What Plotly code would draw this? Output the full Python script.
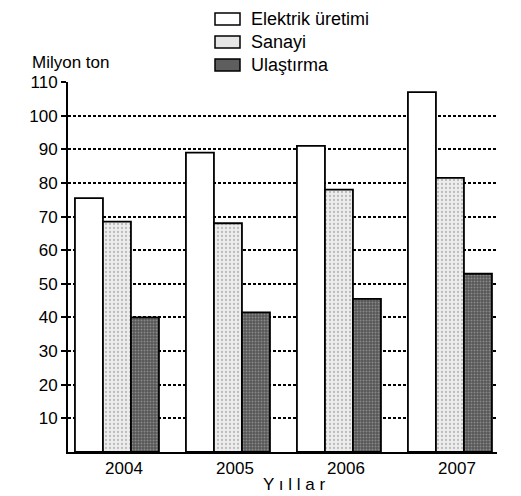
import plotly.graph_objects as go

# Veriler
yillar = ['2004', '2005', '2006', '2007']
elektrik = [75.5, 89, 91, 107]
sanayi = [68.5, 68, 78, 81.5]
ulastirma = [40, 41.5, 45.5, 53]
y_ticks = [10, 20, 30, 40, 50, 60, 70, 80, 90, 100, 110]
seri_adlari = ['Elektrik üretimi', 'Sanayi', 'Ulaştırma']

FONT = 'Liberation Sans, Arial, sans-serif'

fig = go.Figure()

fig.add_trace(go.Bar(
    x=yillar, y=elektrik, name=seri_adlari[0],
    marker=dict(color='white', line=dict(color='black', width=1.8)),
))
fig.add_trace(go.Bar(
    x=yillar, y=sanayi, name=seri_adlari[1],
    marker=dict(color='#ededed', line=dict(color='black', width=1.8),
                pattern=dict(shape='.', fgcolor='#8a8a8a', size=4, solidity=0.25,
                             fillmode='overlay')),
))
fig.add_trace(go.Bar(
    x=yillar, y=ulastirma, name=seri_adlari[2],
    marker=dict(color='#555555', line=dict(color='black', width=1.8),
                pattern=dict(shape='.', fgcolor='#bdbdbd', size=3, solidity=0.35,
                             fillmode='overlay')),
))

# sayfa gövdesi 8px kaydırıyor, hedef koordinatlar ekran pikseli
OFF = 8
L, R, T, B = 68, 24, 82, 44          # ekran pikselinde çizim alanı kenarları
W, H = 521 - L - R, 496 - T - B


def px(X):
    return (X - L) / W


def py(Y):
    return (496 - B - Y) / H


legend_fill = ['white', '#e6e6e6', '#5e5e5e']
legend_rows = [19, 42, 65]
shapes = []
annotations = []
for ad, renk, yy in zip(seri_adlari, legend_fill, legend_rows):
    shapes.append(dict(type='rect', xref='paper', yref='paper',
                       x0=px(215), x1=px(240), y0=py(yy + 6), y1=py(yy - 6),
                       fillcolor=renk, line=dict(color='black', width=1.5)))
    annotations.append(dict(text=ad, xref='paper', yref='paper', x=px(249), y=py(yy),
                            xanchor='left', yanchor='middle', showarrow=False,
                            font=dict(size=18, color='black', family=FONT)))

annotations.append(dict(text='Milyon ton', xref='paper', yref='paper', x=px(30), y=py(62),
                        xanchor='left', yanchor='middle', showarrow=False,
                        font=dict(size=17, color='black', family=FONT)))
annotations.append(dict(text='Y ı l l a r', xref='paper', yref='paper', x=px(294), y=py(484),
                        xanchor='center', yanchor='middle', showarrow=False,
                        font=dict(size=17, color='black', family=FONT)))

fig.update_layout(
    width=521 - OFF, height=496 - OFF,
    margin=dict(l=L - OFF, r=R, t=T - OFF, b=B),
    plot_bgcolor='white', paper_bgcolor='white',
    barmode='group', bargap=0.243, bargroupgap=0,
    showlegend=False,
    shapes=shapes,
    annotations=annotations,
    font=dict(family=FONT, size=17, color='black'),
    xaxis=dict(
        range=[-0.441, 3.424],
        showline=True, linecolor='black', linewidth=2,
        ticks='', showgrid=False, ticklabelshift=7,
        tickfont=dict(size=17),
    ),
    yaxis=dict(
        range=[0, 110], tickvals=y_ticks,
        showline=True, linecolor='black', linewidth=2,
        ticks='outside', ticklen=5, tickwidth=1.5, tickcolor='black',
        showgrid=True, gridcolor='black', gridwidth=1.5, griddash='3px,2px',
        zeroline=False, tickfont=dict(size=17),
    ),
)

fig.write_html('out.html')
